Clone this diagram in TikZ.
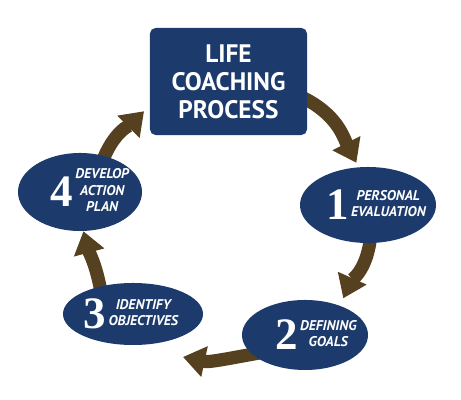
\documentclass[tikz,border=0pt]{standalone}
\usepackage{fontspec}
\setmainfont{PT Sans}
\newfontfamily\numfont{Liberation Serif}
\usetikzlibrary{shapes.geometric, arrows.meta, backgrounds}
\usepackage{xcolor}
\definecolor{navy}{HTML}{1C3B6C}
\definecolor{bark}{HTML}{55401F}
% number and label side by side, shifted right by #1
\newcommand{\stagetext}[3][0pt]{\makebox[0pt]{\hspace*{#1}\hspace*{#1}$\vcenter{\hbox{\numfont\bfseries\fontsize{32}{32}\selectfont #2}}$\hspace{1.5pt}$\vcenter{\hbox{\bfseries\itshape\fontsize{10}{11.6}\selectfont\begin{tabular}{@{}c@{}}#3\end{tabular}}}$}}

\begin{document}
\begin{tikzpicture}[x=0.025cm, y=0.025cm, >={Triangle[width=0.75cm, length=0.55cm]},
  stage/.style={ellipse, fill=navy, text=white, inner sep=0pt},
  flow/.style={->, draw=bark, line width=0.33cm, shorten <=-0.2cm}]
  \useasboundingbox (0,0) rectangle (461,400);
  \node[rectangle, rounded corners=4pt, fill=navy, text=white, minimum width=3.925cm, minimum height=2.675cm, align=center, font=\bfseries\fontsize{18}{19.8}\selectfont] (title) at (228.5,318.5) {LIFE\\COACHING\\PROCESS};
  \node[stage, minimum width=3.4cm, minimum height=1.9cm] (e1) at (368,195) {\stagetext[5.7pt]{1}{PERSONAL\\EVALUATION}};
  \node[stage, minimum width=3.15cm, minimum height=1.75cm] (e2) at (305,65) {\stagetext[7.8pt]{2}{DEFINING\\GOALS}};
  \node[stage, minimum width=3.5cm, minimum height=1.55cm] (e3) at (133,86) {\stagetext[-1.4pt]{3}{IDENTIFY\\OBJECTIVES}};
  \node[stage, minimum width=3.1cm, minimum height=1.95cm] (e4) at (80,208) {\stagetext[7pt]{4}{DEVELOP\\ACTION\\PLAN}};
  \coordinate (t3) at (183,43);
  \begin{scope}[on background layer]
    \draw[flow, shorten >=0.12cm] (title.-13) to[out=-25, in=117] (e1.104);
    \draw[flow, shorten >=0.2cm] (e1.-87) to[out=-95, in=66] (e2.40);
    \draw[flow] (e2.200) to[out=190, in=-12] (t3);
    \draw[flow] (e3.140) to[out=100, in=-75] (e4.-85);
    \draw[flow, shorten >=0.2cm] (e4.56) to[out=70, in=225] (title.197);
  \end{scope}
\end{tikzpicture}
\end{document}
